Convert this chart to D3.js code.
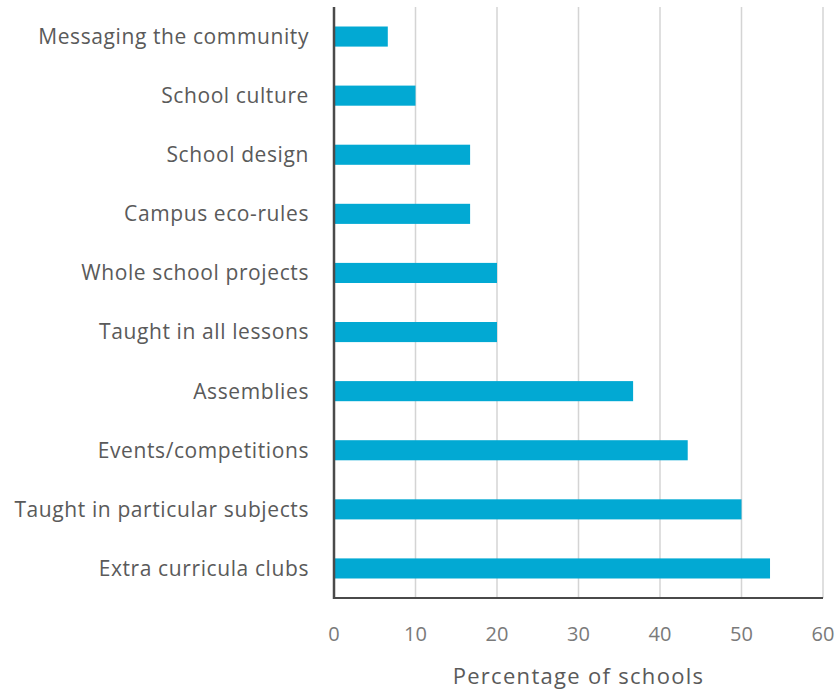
<!DOCTYPE html>
<html>
<head>
<meta charset="utf-8">
<script src="https://cdn.jsdelivr.net/npm/d3@7"></script>
<style>
  body { margin: 0; background: #fff; }
  svg text { font-family: "Open Sans", Lato, sans-serif; }
</style>
</head>
<body>
<svg id="chart" width="840" height="690"></svg>
<script>
// Categories, top to bottom
const categories = [
    'Messaging the community',
    'School culture',
    'School design',
    'Campus eco-rules',
    'Whole school projects',
    'Taught in all lessons',
    'Assemblies',
    'Events/competitions',
    'Taught in particular subjects',
    'Extra curricula clubs'
];

// Percentage of schools
const values = [6.6, 10, 16.7, 16.7, 20, 20, 36.7, 43.4, 50, 53.5];

const xTicks = [0, 10, 20, 30, 40, 50, 60];

const margin = { top: 7, right: 17, bottom: 92, left: 334 };
const width = 840, height = 690;

const svg = d3.select('#chart');

const x = d3.scaleLinear()
    .domain([0, 60])
    .range([margin.left, width - margin.right]);

const y = d3.scaleBand()
    .domain(categories)
    .range([margin.top, height - margin.bottom])
    .paddingInner(0.66)
    .paddingOuter(0.33);

// Gridlines
svg.append('g')
    .selectAll('line')
    .data(xTicks.filter(d => d > 0))
    .enter().append('line')
    .attr('x1', d => x(d))
    .attr('x2', d => x(d))
    .attr('y1', margin.top)
    .attr('y2', height - margin.bottom)
    .attr('stroke', '#d4d4d4')
    .attr('stroke-width', 1.5);

// Bars
svg.append('g')
    .selectAll('rect')
    .data(values)
    .enter().append('rect')
    .attr('x', x(0))
    .attr('y', (d, i) => y(categories[i]))
    .attr('width', d => x(d) - x(0))
    .attr('height', y.bandwidth())
    .attr('fill', '#02a9d3');

// Axis lines
svg.append('line')
    .attr('x1', x(0)).attr('x2', x(60))
    .attr('y1', height - margin.bottom).attr('y2', height - margin.bottom)
    .attr('stroke', '#4a4a4a')
    .attr('stroke-width', 2);

svg.append('line')
    .attr('x1', x(0)).attr('x2', x(0))
    .attr('y1', margin.top).attr('y2', height - margin.bottom + 1)
    .attr('stroke', '#4a4a4a')
    .attr('stroke-width', 2.5);

// Category labels
svg.append('g')
    .selectAll('text')
    .data(categories)
    .enter().append('text')
    .attr('x', margin.left - 25)
    .attr('y', d => y(d) + y.bandwidth() / 2)
    .attr('dy', '0.35em')
    .attr('text-anchor', 'end')
    .attr('font-size', 21)
    .attr('letter-spacing', 0.6)
    .attr('fill', '#5a5a5a')
    .text(d => d);

// Tick labels
svg.append('g')
    .selectAll('text')
    .data(xTicks)
    .enter().append('text')
    .attr('x', d => x(d))
    .attr('y', 634)
    .attr('dy', '0.35em')
    .attr('text-anchor', 'middle')
    .attr('font-size', 20)
    .attr('fill', '#7a7a7a')
    .text(d => d);

// Axis title
svg.append('text')
    .attr('x', (x(0) + x(60)) / 2)
    .attr('y', 676)
    .attr('dy', '0.35em')
    .attr('text-anchor', 'middle')
    .attr('font-size', 22)
    .attr('letter-spacing', 1.3)
    .attr('fill', '#5a5a5a')
    .text('Percentage of schools');
</script>
</body>
</html>
